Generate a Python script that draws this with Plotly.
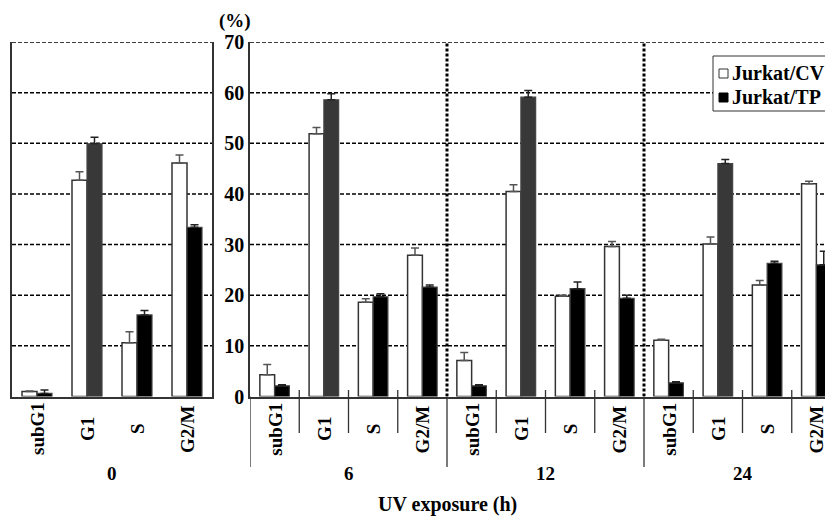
import plotly.graph_objects as go

# ---------------- data ----------------
phases = ["subG1", "G1", "S", "G2/M"]
times = ["0", "6", "12", "24"]

cv_mean = [1.0, 42.7, 10.6, 46.1,
           4.3, 51.9, 18.6, 27.9,
           7.1, 40.5, 19.8, 29.6,
           11.1, 30.1, 22.0, 42.0]
cv_err = [0.1, 1.7, 2.2, 1.6,
          2.0, 1.2, 0.7, 1.4,
          1.6, 1.3, 0.2, 1.0,
          0.2, 1.4, 0.9, 0.5]
tp_mean = [0.6, 49.9, 16.1, 33.4,
           2.1, 58.6, 19.7, 21.6,
           2.1, 59.1, 21.3, 19.4,
           2.7, 46.0, 26.3, 26.0]
tp_err = [0.7, 1.3, 0.9, 0.5,
          0.2, 1.2, 0.6, 0.4,
          0.2, 1.3, 1.3, 0.6,
          0.2, 0.8, 0.4, 2.7]

series_names = ["Jurkat/CV", "Jurkat/TP"]
y_ticks = [0, 10, 20, 30, 40, 50, 60, 70]

# ---------------- layout helpers ----------------
# the page body has an 8px margin, so the figure is offset by (8, 8)
OFF = 8
W, H = 833 - OFF, 517 - OFF
FONT = "Liberation Serif, Times New Roman, serif"


def px_x(p):
    return (p - OFF) / W


def px_y(p):
    return (H - (p - OFF)) / H


Y0, Y1 = px_y(396.5), px_y(42)
LEFT_DOM = [px_x(12), px_x(212)]
RIGHT_DOM = [px_x(250), 1.0]
RIGHT_RANGE = [0, (833 - 250) / 49.25]

fig = go.Figure()

BW = 0.3
n = len(phases)
for g, t in enumerate(times):
    sl = slice(g * n, (g + 1) * n)
    xs = [i + 0.5 + (0 if g == 0 else (g - 1) * n) for i in range(n)]
    xa, ya = ("x", "y2") if g == 0 else ("x2", "y")
    tp_colors = ["#383838" if p == "G1" else "#000000" for p in phases]
    fig.add_trace(go.Bar(
        x=xs, y=cv_mean[sl], width=BW, offset=-BW,
        marker=dict(color="white", line=dict(color="#333333", width=1.5)),
        error_y=dict(type="data", symmetric=False, array=cv_err[sl],
                     arrayminus=[0] * n, color="#555555", thickness=1.5, width=4),
        xaxis=xa, yaxis=ya, showlegend=False, name=series_names[0]))
    fig.add_trace(go.Bar(
        x=xs, y=tp_mean[sl], width=BW, offset=0,
        marker=dict(color=tp_colors, line=dict(color="#444444", width=1.2)),
        error_y=dict(type="data", symmetric=False, array=tp_err[sl],
                     arrayminus=[0] * n, color="#222222", thickness=1.5, width=4),
        xaxis=xa, yaxis=ya, showlegend=False, name=series_names[1]))

shapes = []
# dashed gridlines
for v in y_ticks[1:]:
    for dom in (LEFT_DOM, RIGHT_DOM):
        shapes.append(dict(type="line", xref="paper", yref="y",
                           x0=dom[0], x1=dom[1], y0=v, y1=v, layer="below",
                           line=dict(color="black", width=1.5, dash="4px,2px")))
# dotted group separators in plot area
for b in (4, 8):
    shapes.append(dict(type="line", xref="x2", yref="y", x0=b, x1=b, y0=0, y1=70,
                       line=dict(color="black", width=3, dash="3px,2px")))
# separators below the axis
for b in range(12):
    if b % 4 == 0:
        shapes.append(dict(type="line", xref="x2", yref="paper", x0=b, x1=b,
                           y0=px_y(396.5), y1=px_y(467),
                           line=dict(color="#333333", width=1.3)))
    else:
        shapes.append(dict(type="line", xref="x2", yref="paper", x0=b, x1=b,
                           y0=px_y(390), y1=px_y(433),
                           line=dict(color="#333333", width=1.3)))

# custom legend
shapes.append(dict(type="rect", xref="paper", yref="paper",
                   x0=px_x(713), x1=px_x(826), y0=px_y(56), y1=px_y(111),
                   fillcolor="white", line=dict(color="#333333", width=1)))
shapes.append(dict(type="rect", xref="paper", yref="paper",
                   x0=px_x(719), x1=px_x(728), y0=px_y(69), y1=px_y(78),
                   fillcolor="white", line=dict(color="#333333", width=1)))
shapes.append(dict(type="rect", xref="paper", yref="paper",
                   x0=px_x(719), x1=px_x(728), y0=px_y(93), y1=px_y(102),
                   fillcolor="black", line=dict(color="black", width=1)))

annotations = []
bold = dict(family=FONT, size=19, color="black", weight="bold")
for g, t in enumerate(times):
    for i, p in enumerate(phases):
        if g == 0:
            xr, xv = "x", i + 0.5
        else:
            xr, xv = "x2", (g - 1) * n + i + 0.5
        annotations.append(dict(text=p, xref=xr, yref="paper", x=xv, y=px_y(429),
                                textangle=-90, showarrow=False, font=bold,
                                xanchor="center", yanchor="middle"))
    xr, xv = ("x", 2) if g == 0 else ("x2", (g - 1) * n + 2)
    annotations.append(dict(text=t, xref=xr, yref="paper", x=xv, y=px_y(473),
                            showarrow=False, font=bold,
                            xanchor="center", yanchor="middle"))

annotations.append(dict(text="UV exposure (h)", xref="paper", yref="paper",
                        x=px_x(447), y=0, showarrow=False, borderpad=0,
                        font=dict(family=FONT, size=20, color="black", weight="bold"),
                        xanchor="center", yanchor="bottom"))
annotations.append(dict(text="(%)", xref="paper", yref="paper",
                        x=px_x(235), y=px_y(21), showarrow=False,
                        font=dict(family=FONT, size=19, color="black", weight="bold"),
                        xanchor="center", yanchor="middle"))
for name, cy in zip(series_names, (73.5, 97.5)):
    annotations.append(dict(text=name, xref="paper", yref="paper",
                            x=px_x(730), y=px_y(cy), showarrow=False,
                            font=dict(family=FONT, size=20, color="black", weight="bold"),
                            xanchor="left", yanchor="middle"))

fig.update_layout(
    width=W, height=H,
    margin=dict(l=0, r=0, t=0, b=0, autoexpand=False),
    paper_bgcolor="white", plot_bgcolor="rgba(0,0,0,0)",
    barmode="overlay",
    xaxis=dict(domain=LEFT_DOM, range=[0, 4], anchor="y2", automargin=False,
               showgrid=False, zeroline=False, showticklabels=False, ticks="",
               showline=True, linecolor="#333333", linewidth=1.5),
    yaxis2=dict(domain=[Y0, Y1], range=[0, 70], anchor="x", automargin=False,
                showgrid=False, zeroline=False, showticklabels=False, ticks="",
                showline=True, mirror=True, linecolor="#333333", linewidth=1.5),
    xaxis2=dict(domain=RIGHT_DOM, range=RIGHT_RANGE, anchor="y", automargin=False,
                showgrid=False, zeroline=False, showticklabels=False, ticks="",
                showline=True, linecolor="#333333", linewidth=1.5),
    yaxis=dict(domain=[Y0, Y1], range=[0, 70], anchor="x2", automargin=False,
               tickvals=y_ticks, ticktext=[str(v) for v in y_ticks],
               tickfont=dict(family=FONT, size=20, color="black", weight="bold"),
               showgrid=False, zeroline=False, ticks="",
               showline=True, linecolor="#333333", linewidth=1.5),
    shapes=shapes,
    annotations=annotations,
)

fig.write_html("out.html")
